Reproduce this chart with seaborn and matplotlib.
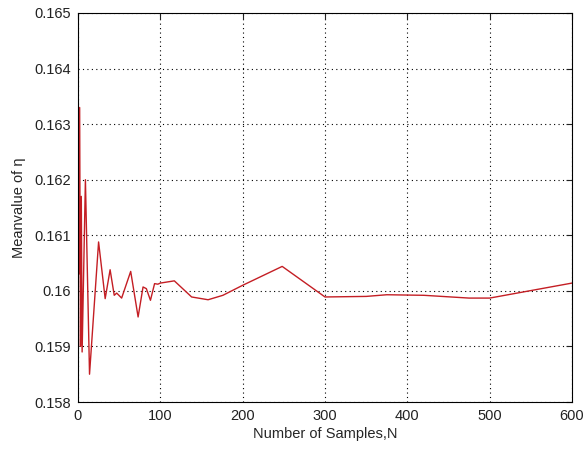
import matplotlib
matplotlib.use("Agg")
import matplotlib.pyplot as plt
from matplotlib.ticker import FuncFormatter
import seaborn as sns
import pandas as pd

# Running mean of eta versus the number of samples
samples = [1, 2, 3, 4, 5, 9, 14, 25, 33, 39, 44, 47, 53, 64, 73, 79, 83, 88,
           93, 97, 100, 117, 138, 158, 176, 200, 248, 300, 350, 375, 420,
           475, 500, 600]
mean_eta = [0.1603, 0.1633, 0.1590, 0.1617, 0.1589, 0.1620, 0.1585, 0.16088,
            0.15986, 0.16038, 0.15992, 0.15996, 0.15987, 0.16035, 0.15953,
            0.16007, 0.16004, 0.15983, 0.16013, 0.16012, 0.16014, 0.16018,
            0.15989, 0.15984, 0.15992, 0.16010, 0.16044, 0.15989, 0.15990,
            0.15993, 0.15992, 0.15987, 0.15987, 0.16014]

x_ticks = [0, 100, 200, 300, 400, 500, 600]
y_ticks = [0.158, 0.159, 0.160, 0.161, 0.162, 0.163, 0.164, 0.165]

sns.set_style("white")
plt.rcParams["font.family"] = ["Liberation Sans", "DejaVu Sans"]

df = pd.DataFrame({"N": samples, "eta": mean_eta})

fig = plt.figure(figsize=(5.85, 4.5), dpi=100)
ax = fig.add_axes([78 / 585, 1 - 402 / 450, 494 / 585, 389 / 450])

sns.lineplot(data=df, x="N", y="eta", ax=ax, color="#c41e24", linewidth=1.0,
             sort=False, estimator=None)

ax.set_xlim(0, 600)
ax.set_ylim(0.158, 0.165)
ax.set_xticks(x_ticks)
ax.set_yticks(y_ticks)
ax.yaxis.set_major_formatter(FuncFormatter(lambda v, p: f"{v:g}"))

ax.grid(True, color="black", linestyle=(0, (1, 3)), linewidth=0.8)
for s in ax.spines.values():
    s.set_color("black")
    s.set_linewidth(0.8)

ax.tick_params(direction="in", length=4, width=0.8, top=True, right=True,
               labelsize=10.5, colors="#222222", pad=5)

ax.set_xlabel("Number of Samples,N", fontsize=10.5, labelpad=3)
ax.set_ylabel("Meanvalue of η", fontsize=10.5, labelpad=6)

fig.savefig("out.png", dpi=100, facecolor="white")
